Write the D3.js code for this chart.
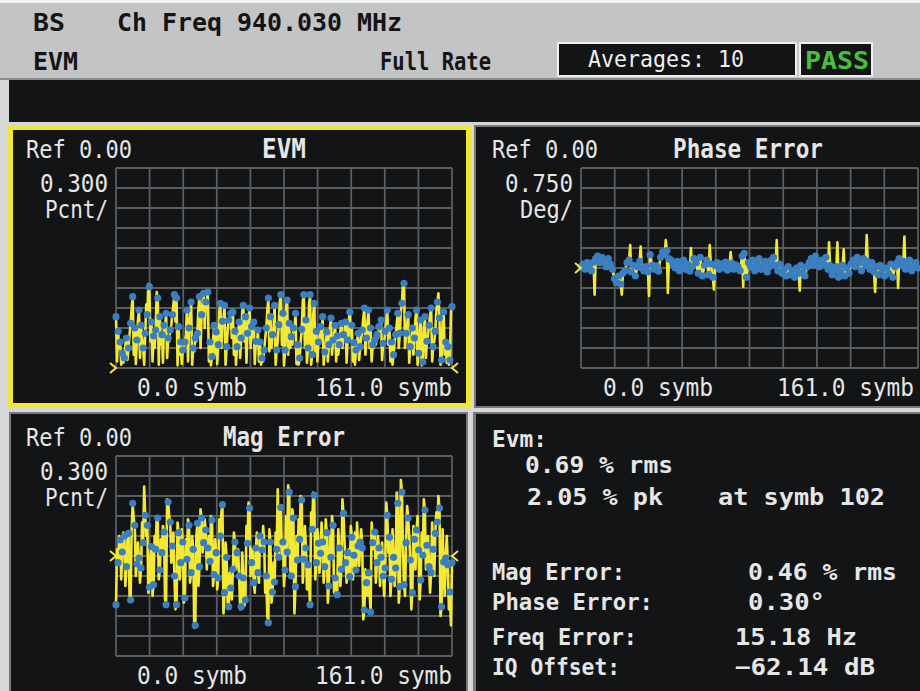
<!DOCTYPE html>
<html><head><meta charset="utf-8">
<script src="https://cdn.jsdelivr.net/npm/d3@7"></script>
<style>html,body{margin:0;padding:0;background:#d6d7d9;} svg{display:block;}</style>
</head><body>
<svg id="c" width="920" height="691"></svg>
<script>
// ---------- data ----------
const symbolRange = [0, 161];
const xTickLabels = ["0.0 symb", "161.0 symb"];
const panelTitles = ["EVM", "Phase Error", "Mag Error"];
const scaleLabels = ["0.300", "0.750", "0.300"];
const unitLabels = ["Pcnt/", "Deg/", "Pcnt/"];
const perDiv = [0.3, 0.75, 0.3];

const evmDots = [0.77,0.55,0.39,0.22,0.15,0.45,0.30,0.67,1.07,0.60,
0.42,0.87,0.64,0.30,0.52,0.80,1.22,0.69,0.48,0.57,
1.05,0.77,0.50,0.64,0.82,0.45,0.57,0.80,1.10,1.05,
0.62,0.39,0.27,0.39,0.87,0.60,0.99,0.30,0.45,0.52,
1.07,0.80,1.12,0.99,1.14,0.39,0.17,0.64,0.54,0.35,
0.97,0.70,0.94,0.32,0.72,0.82,0.84,0.55,0.32,0.69,
0.45,0.94,0.77,0.52,0.90,0.62,0.69,0.40,0.57,0.39,
0.15,0.27,0.60,1.05,0.77,0.50,0.94,0.27,0.65,1.10,
0.82,0.27,1.02,0.67,0.47,0.60,0.82,0.35,0.15,0.58,
1.10,0.72,0.30,1.10,0.20,0.97,0.55,0.39,0.62,0.77,
0.24,0.54,0.35,0.75,0.42,0.64,0.48,0.35,0.67,0.50,
0.69,0.42,0.84,0.64,0.38,0.27,0.52,0.32,0.57,0.90,
0.45,0.87,0.60,0.35,0.42,0.50,0.62,0.72,0.37,0.55,
0.87,0.60,0.39,0.20,0.50,0.82,0.52,0.97,1.27,0.52,
0.80,0.32,0.60,0.45,0.87,0.22,0.72,0.09,0.77,0.40,
0.64,0.90,0.32,0.55,0.99,0.75,0.12,0.84,0.39,0.32,
0.12,0.92];
const evmMid = [0.10,0.30,0.05,0.08,0.35,0.12,0.50,0.90,0.20,0.06,
0.70,0.15,0.45,0.05,0.95,1.26,0.40,0.10,0.30,1.14,
0.05,0.35,0.08,0.60,0.15,0.40,0.65,0.95,0.70,0.04,
0.20,0.06,0.30,0.50,0.10,0.80,0.05,0.25,0.40,0.90,
0.30,1.00,0.60,1.00,0.10,0.04,0.40,0.20,0.06,0.85,
0.30,0.75,0.05,0.55,0.70,0.45,0.20,0.05,0.50,0.15,
0.85,0.40,0.08,0.75,0.30,0.45,0.06,0.35,0.10,0.05,
0.10,0.45,0.85,0.25,0.30,0.60,0.05,0.40,1.00,0.35,
0.04,0.90,0.20,0.30,0.35,0.55,0.06,0.05,0.40,1.00,
0.30,0.08,0.95,0.05,0.80,0.25,0.10,0.45,0.40,0.05,
0.35,0.10,0.60,0.20,0.50,0.10,0.20,0.55,0.30,0.55,
0.08,0.70,0.45,0.10,0.05,0.40,0.12,0.45,0.75,0.20,
0.70,0.30,0.10,0.30,0.35,0.45,0.55,0.12,0.40,0.70,
0.35,0.10,0.05,0.40,0.65,0.30,0.85,1.27,0.30,0.65,
0.08,0.45,0.20,0.75,0.05,0.55,0.04,0.60,0.15,0.50,
0.80,0.10,0.40,0.85,1.12,0.05,0.70,0.20,0.08,0.05,
0.85];

const phaseDots = [0.05,0.15,-0.05,0.20,0.10,-0.10,0.22,0.35,0.45,0.20,
0.40,0.30,0.05,0.35,0.15,-0.05,-0.40,-0.55,-0.30,-0.60,
-0.20,-0.10,0.20,0.30,-0.15,0.10,-0.30,0.05,0.25,0.00,
-0.10,0.05,-0.15,0.50,0.10,-0.05,0.08,-0.12,0.40,0.60,
0.50,0.65,0.35,0.30,0.15,0.00,0.25,-0.10,0.10,0.30,
-0.05,0.15,-0.12,0.05,0.35,0.20,-0.20,0.40,-0.30,0.10,
0.30,-0.25,0.15,-0.35,0.10,0.20,-0.05,0.15,0.00,0.22,
-0.08,0.10,0.18,-0.05,0.12,0.05,-0.10,0.45,0.55,-0.35,
0.20,0.05,0.30,-0.10,0.15,0.35,-0.05,0.10,0.25,-0.15,
0.05,0.30,0.40,0.10,-0.10,0.15,-0.20,-0.05,-0.30,0.05,
-0.25,-0.10,-0.35,0.00,-0.20,0.10,-0.15,-0.30,0.05,0.20,
0.35,0.10,0.45,0.25,0.05,0.30,0.15,0.40,-0.05,0.10,
-0.25,-0.10,0.05,-0.35,-0.15,0.10,-0.30,0.00,-0.20,0.15,
0.30,0.05,0.40,0.20,-0.10,0.35,0.10,0.25,-0.05,0.20,
-0.15,0.05,-0.25,0.10,-0.05,-0.30,0.00,-0.20,0.15,-0.35,
0.05,0.20,0.35,0.10,0.25,-0.05,0.15,0.30,-0.10,0.05,
0.20,0.00];
const phaseMid = [0.10,0.05,0.12,0.15,0.00,0.05,-1.00,0.40,0.30,0.35,
0.38,0.15,0.20,0.25,0.05,-0.25,-0.50,-0.40,-0.45,-1.00,
-0.15,0.05,0.25,0.86,-0.05,-0.10,-0.12,0.15,0.80,-0.05,
-0.02,-0.05,-1.05,0.30,0.02,0.00,-0.02,0.15,0.50,0.55,
1.05,-0.94,0.32,0.22,0.08,0.12,0.08,0.00,0.20,0.12,
0.05,0.02,0.75,0.20,0.28,0.00,0.10,0.05,-0.10,0.20,
0.02,0.86,-0.10,-0.80,0.15,0.08,0.05,0.08,0.10,0.08,
0.01,0.60,0.06,0.04,0.08,-0.02,0.18,-0.70,0.10,-0.08,
0.12,0.18,0.10,0.02,0.25,0.15,0.02,0.18,0.05,-0.05,
0.18,0.35,0.25,1.05,0.02,-0.02,-0.12,-0.18,-0.12,-0.10,
-0.18,-0.22,-0.18,-0.10,-0.85,-0.02,-0.22,-0.12,0.12,0.28,
0.22,0.28,0.35,0.15,0.18,0.22,0.28,0.18,0.96,-0.08,
-0.18,-0.02,0.96,-0.25,-0.02,0.70,-0.15,-0.10,-0.02,0.22,
0.18,0.22,0.30,0.05,0.12,0.22,1.24,0.10,0.08,0.02,
-0.90,-0.10,-0.08,0.02,-0.18,-0.15,-0.10,-0.02,-0.10,-0.15,
0.12,-0.75,0.22,0.18,1.18,0.05,0.22,0.10,-0.02,0.12,
0.10];

const magDots = [-0.73,-0.10,0.24,0.06,0.30,-0.16,0.34,-0.66,0.79,0.46,
-0.12,-0.03,-0.18,0.20,0.61,0.46,-0.47,0.14,-0.43,0.10,
0.57,-0.21,0.05,0.36,-0.73,0.81,0.51,0.15,-0.30,-0.73,
0.35,-0.10,0.21,-0.63,-0.05,0.46,-0.25,0.10,-1.04,0.49,
-0.16,0.57,0.20,0.39,0.12,-0.08,0.54,-0.28,0.05,-0.33,
0.30,0.77,-0.55,-0.02,-0.76,-0.48,-0.20,0.21,0.05,-0.30,
-0.76,-0.33,-0.66,0.19,0.72,-0.10,-0.40,0.12,-0.25,0.30,
0.09,0.21,-0.30,-1.00,0.21,-0.54,-0.39,0.10,-0.02,0.73,
0.21,-0.21,0.06,0.96,-0.30,0.57,-0.46,-0.06,0.25,0.84,
-0.05,0.12,-0.13,-0.73,0.40,0.91,-0.10,0.19,0.04,0.21,
-0.16,0.35,-0.45,-0.02,0.46,-0.33,-0.58,0.12,-0.20,0.64,
-0.10,0.05,-0.31,0.28,0.01,-0.21,0.15,0.21,0.12,-0.81,
-0.40,-0.25,-0.84,0.20,0.36,-0.10,0.12,-0.02,-0.30,-0.18,
0.61,0.28,-0.35,-0.02,-0.18,0.79,-0.46,0.96,-0.43,0.20,
0.57,-0.06,-0.55,0.25,0.39,0.09,-0.36,0.01,0.69,0.16,
-0.16,-0.25,0.10,0.34,0.51,0.72,-0.76,-0.09,-0.03,-0.13,
-0.54,-0.10];
const magMid = [0.10,0.30,-0.35,0.35,-0.45,0.25,-0.60,0.40,0.55,-0.30,
0.20,-0.40,0.50,1.04,0.30,-0.55,0.00,-0.60,0.30,0.60,
-0.35,0.25,0.45,-0.65,0.85,0.60,-0.10,0.35,-0.80,0.50,
-0.35,0.40,-0.70,0.25,0.55,-0.40,0.30,-1.08,0.30,-0.45,
0.70,0.05,0.55,-0.20,0.30,0.60,-0.45,0.25,-0.50,0.55,
0.65,-0.86,0.20,-0.70,-0.25,-0.65,0.35,-0.20,0.10,-0.80,
0.05,-0.75,0.45,0.80,-0.30,0.10,-0.55,0.35,-0.40,0.20,
0.45,-0.55,-0.90,0.40,-0.70,-0.10,0.35,1.00,0.50,0.00,
-0.45,0.60,1.06,-0.20,0.70,-0.86,0.30,0.55,0.90,-0.40,
0.45,-0.50,-0.40,0.65,0.95,-0.35,0.40,-0.25,0.50,-0.40,
0.55,-0.70,0.30,0.60,-0.55,-0.30,0.40,-0.45,0.85,0.20,
-0.40,0.10,0.45,-0.35,0.35,0.50,-0.15,0.40,-0.95,-0.20,
-0.60,-0.55,0.50,0.10,-0.40,0.30,-0.45,0.20,-0.60,0.80,
0.05,-0.60,0.40,-0.45,0.95,-0.70,1.14,0.10,-0.60,0.75,
0.30,-0.80,0.45,-0.20,0.60,-0.65,0.35,0.85,-0.20,0.30,
-0.55,0.50,-0.30,0.65,0.90,-0.90,0.40,-0.60,0.30,-0.80,
-1.04];

const resultLabels = ["Mag Error:", "Phase Error:", "Freq Error:", "IQ Offset:"];
const resultValues = ["0.46 % rms", "0.30°", "15.18 Hz", "\u221262.14 dB"];

// ---------- drawing ----------
const svg = d3.select("#c");
const FONT = "'DejaVu Sans Mono', 'Liberation Mono', monospace";
const BG = "#131416";

function txt(g, x, y, s, o = {}) {
  const w = o.w; let x0 = x;
  if (w && o.anchor === "end") x0 = x - w;
  if (w && o.anchor === "middle") x0 = x - w / 2;
  const t = g.append("text").attr("x", x0).attr("y", y).text(s)
    .attr("font-family", FONT).attr("font-size", o.size || 24)
    .attr("font-weight", o.weight || "normal").attr("fill", o.fill || "#e6e6e6");
  if (w) t.attr("textLength", w).attr("lengthAdjust", "spacingAndGlyphs");
  else if (o.anchor) t.attr("text-anchor", o.anchor);
  return t;
}
function rect(x, y, w, h, fill) {
  return svg.append("rect").attr("x", x).attr("y", y).attr("width", w).attr("height", h).attr("fill", fill);
}

// base
rect(0, 0, 920, 691, "#d6d7d9");
rect(0, 0, 920, 78, "#c3c4c6");
rect(0, 0, 920, 3, "#f2f2f2");
rect(0, 78, 920, 2, "#8a8b8d");
rect(9, 80, 911, 42, BG);

// header text
txt(svg, 33, 31, "BS", { w: 32, weight: "bold", fill: "#141414" });
txt(svg, 117, 31, "Ch Freq 940.030 MHz", { w: 285, weight: "bold", fill: "#141414" });
txt(svg, 33, 70, "EVM", { w: 45, weight: "bold", fill: "#141414" });
txt(svg, 380, 70, "Full Rate", { w: 111, weight: "bold", fill: "#141414" });
svg.append("rect").attr("x", 558).attr("y", 43).attr("width", 238).attr("height", 33)
  .attr("fill", BG).attr("stroke", "#f0f0f0").attr("stroke-width", 2);
txt(svg, 588, 67, "Averages: 10", { w: 156, fill: "#f0f0f0", size: 23 });
svg.append("rect").attr("x", 800).attr("y", 43).attr("width", 72).attr("height", 33)
  .attr("fill", BG).attr("stroke", "#f0f0f0").attr("stroke-width", 2);
txt(svg, 805, 69, "PASS", { w: 64, weight: "bold", fill: "#45c23c", size: 24 });

// panel frames
rect(7, 125, 464, 283, "#f1e633"); rect(13, 130, 453, 273, BG);
rect(474, 125, 446, 283, "#77797b"); rect(476, 127, 444, 279, BG);
rect(9, 412, 459, 279, "#77797b"); rect(11, 414, 455, 277, BG);
rect(473, 412, 447, 279, "#77797b"); rect(476, 414, 444, 277, BG);

const panels = [
  { dots: evmDots, mid: evmMid, x0: 116, x1: 452, y0: 168, y1: 368, lo: 0, hi: 10 * perDiv[0],
    title: panelTitles[0], titleX: 262, titleW: 44, ty: 158, refX: 26, sx: 108, symX0: 137, symX1: 452,
    marks: [[116, 368, 1], [452, 368, -1]] },
  { dots: phaseDots, mid: phaseMid, x0: 581, x1: 918, y0: 168, y1: 368, lo: -5 * perDiv[1], hi: 5 * perDiv[1],
    title: panelTitles[1], titleX: 673, titleW: 150, ty: 158, refX: 492, sx: 573, symX0: 603, symX1: 914,
    marks: [[581, 268, 1]] },
  { dots: magDots, mid: magMid, x0: 116, x1: 452, y0: 456, y1: 656, lo: -5 * perDiv[2], hi: 5 * perDiv[2],
    title: panelTitles[2], titleX: 223, titleW: 122, ty: 446, refX: 26, sx: 108, symX0: 137, symX1: 452,
    marks: [[116, 556, 1], [452, 556, -1]] }
];

panels.forEach((p, k) => {
  const g = svg.append("g");
  const x = d3.scaleLinear().domain(symbolRange).range([p.x0, p.x1]);
  const y = d3.scaleLinear().domain([p.lo, p.hi]).range([p.y1, p.y0]);
  // grid
  const xs = d3.range(11).map(i => symbolRange[0] + (symbolRange[1] - symbolRange[0]) * i / 10);
  const ys = d3.range(11).map(i => p.lo + (p.hi - p.lo) * i / 10);
  g.selectAll(".vx").data(xs).join("line")
    .attr("x1", d => x(d)).attr("x2", d => x(d)).attr("y1", p.y0).attr("y2", p.y1)
    .attr("stroke", "#5a5d60").attr("stroke-width", 1.8);
  g.selectAll(".hy").data(ys).join("line")
    .attr("y1", d => y(d)).attr("y2", d => y(d)).attr("x1", p.x0).attr("x2", p.x1)
    .attr("stroke", "#5a5d60").attr("stroke-width", 1.8);
  // yellow trace
  const pts = [];
  p.dots.forEach((v, i) => {
    pts.push([i, v]);
    if (i < p.mid.length) pts.push([i + 0.5, p.mid[i]]);
  });
  const line = d3.line().x(d => x(d[0])).y(d => y(d[1]));
  g.append("path").attr("d", line(pts)).attr("fill", "none")
    .attr("stroke", "#f3e834").attr("stroke-width", 2.6).attr("stroke-linejoin", "round");
  // blue symbol points
  g.selectAll(".dot").data(p.dots).join("circle")
    .attr("cx", (d, i) => x(i)).attr("cy", d => y(d)).attr("r", 3.6).attr("fill", "#3a7fc2");
  // reference markers
  p.marks.forEach(([mx, my, dir]) => {
    g.append("path").attr("d", `M${mx - 6 * dir},${my - 5} L${mx},${my} L${mx - 6 * dir},${my + 5}`)
      .attr("fill", "none").attr("stroke", "#f3e834").attr("stroke-width", 2);
  });
  // labels
  txt(g, p.refX, p.ty, "Ref 0.00", { w: 106 });
  txt(g, p.titleX, p.ty, p.title, { w: p.titleW, weight: "bold", size: 26 });
  txt(g, p.sx, p.ty + 34, scaleLabels[k], { w: 68, anchor: "end" });
  txt(g, p.sx, p.ty + 60, unitLabels[k], { w: unitLabels[k].length === 5 ? 63 : 53, anchor: "end" });
  txt(g, p.symX0, p.y1 + 28, xTickLabels[0], { w: 110 });
  txt(g, p.symX1, p.y1 + 28, xTickLabels[1], { w: 137, anchor: "end" });
});

// results panel
const r = svg.append("g");
const B = { weight: "bold", size: 23 };
txt(r, 492, 447, "Evm:", { ...B, w: 55 });
txt(r, 525, 473, "0.69 % rms", { ...B, w: 148 });
txt(r, 527, 505, "2.05 % pk", { ...B, w: 136 });
txt(r, 718, 505, "at symb 102", { ...B, w: 167 });
const rowY = [580, 610, 645, 675];
const labW = [133, 161, 145, 128];
const valX = [748, 748, 735, 735];
const valW = [149, 77, 122, 140];
resultLabels.forEach((s, i) => {
  txt(r, 492, rowY[i], s, { ...B, w: labW[i] });
  txt(r, valX[i], rowY[i], resultValues[i], { ...B, w: valW[i] });
});
</script>
</body></html>
